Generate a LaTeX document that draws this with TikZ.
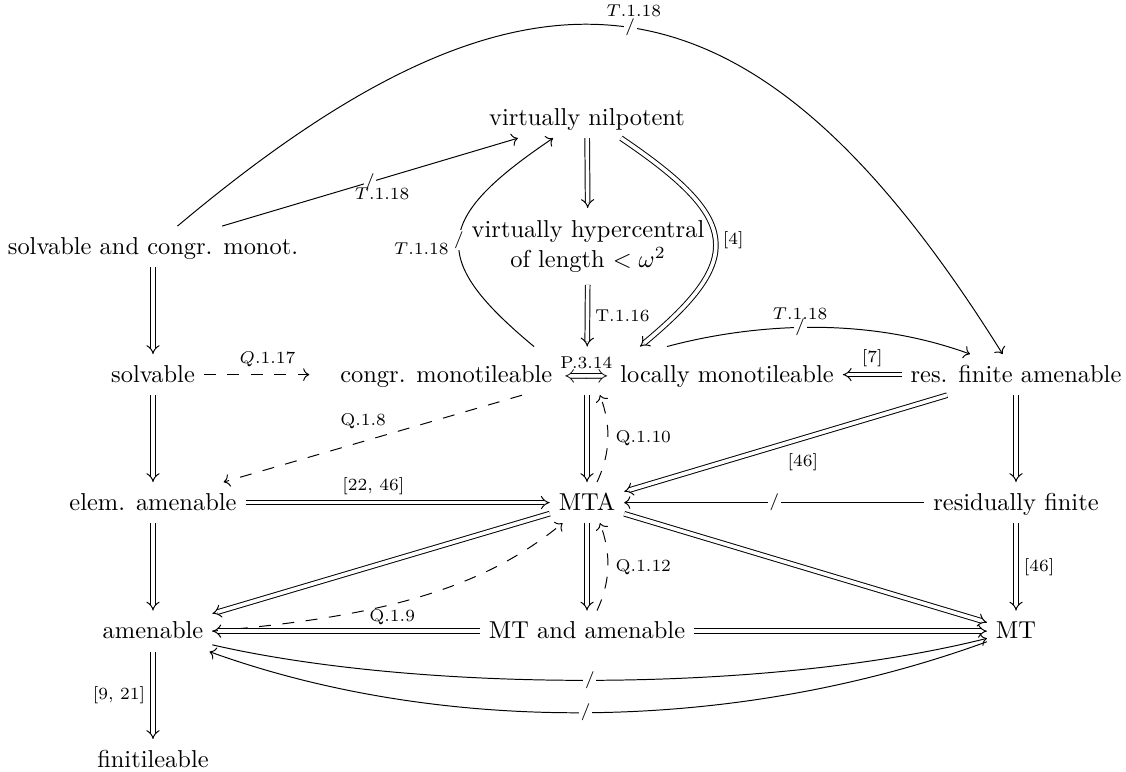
\documentclass[tikz,border=0pt]{standalone}
\usepackage{amsmath}
\usetikzlibrary{arrows.meta,calc}
\begin{document}
\begin{tikzpicture}[x=0.409pt,y=-0.409pt,
  obj/.style={inner xsep=3.5pt, inner ysep=3.9pt, text height=1.7ex, text depth=0.3ex, anchor=base},
  imp/.style={double, double distance=1.5pt, -{Implies}},
  sto/.style={-{Computer Modern Rightarrow}},
  dsh/.style={sto, dash pattern=on 4.9pt off 4.7pt},
  lab/.style={font=\scriptsize, inner sep=1pt},
  negmark/.style={fill=white, inner sep=0.6pt, font=\scriptsize},
]
\useasboundingbox (0,0) rectangle (1126,771);

% nodes
\node[obj] (vn) at (587,125) {virtually nilpotent};
\node[obj] (scm) at (153,254) {solvable and congr. monot.};
\node[align=center, inner xsep=3.5pt, inner ysep=5pt] (vh) at (588,246.4) {virtually hypercentral\\of length $<\omega^2$};
\node[obj] (sol) at (153,382) {solvable};
\node[obj, text height=10.4pt] (crow) at (587,382) {congr. monotileable $\overset{\text{P.3.14}}{\Longleftrightarrow}$ locally monotileable};
\node[obj] (rfa) at (1016,382) {res. finite amenable};
\node[obj] (ea) at (153,510) {elem. amenable};
\node[obj] (mta) at (587,510) {MTA};
\node[obj] (rf) at (1016,510) {residually finite};
\node[obj] (am) at (153,638.5) {amenable};
\node[obj] (mtam) at (587,638.5) {MT and amenable};
\node[obj] (mt) at (1016,638.5) {MT};
\node[obj] (fin) at (153,767) {finitileable};

% connectors
\draw[sto] (scm) -- node[midway, negmark]{$/$} node[midway, lab, below=1pt, xshift=5pt]{$T$.1.18} (vn);
\draw[sto] (scm.40) .. controls +(357,-300) and +(-250,-400) .. node[midway, negmark]{$/$} node[midway, lab, above=3pt, xshift=1.5pt]{$T$.1.18} (rfa.123);
\draw[imp] (vn) -- (vh);
\draw[imp] (vh) -- node[midway, lab, right=2pt]{T.1.16} (crow);
\draw[sto] ($(crow.north)+(-53,0)$) .. controls +(-105.5,-87.7) and +(-120,81) .. node[midway, negmark]{$/$} node[midway, lab, left=3pt, yshift=-3.5pt]{$T$.1.18} ($(vn.south)+(-34,0)$);
\draw[imp] ($(vn.south)+(34,0)$) .. controls +(120,81) and +(105.5,-87.7) .. node[midway, lab, right=2pt]{[4]} ($(crow.north)+(53,0)$);
\draw[sto] ($(crow.north)+(80,0)$) .. controls +(68,-18.3) and +(-117,-42.6) .. node[midway, negmark]{$/$} node[midway, lab, above=2pt]{$T$.1.18} ($(rfa.north)+(-46,0)$);
\draw[imp] (scm) -- (sol);
\draw[dsh, shorten >=9pt] (sol.east) -- node[midway, lab, above=2pt]{$Q$.1.17} (crow.west |- sol.east);
\draw[imp] (sol) -- (ea);
\draw[imp] (ea) -- (am);
\draw[imp] (am) -- node[midway, lab, left=2pt]{[9, 21]} (fin);
\draw[imp] (rfa.west) -- node[midway, lab, above=2pt]{[7]} (crow.east |- rfa.west);
\draw[imp] (rfa) -- node[midway, lab, below=3pt, xshift=7pt]{[46]} (mta);
\draw[imp] (rfa) -- (rf);
\draw[sto] (rf) -- node[midway, negmark]{$/$} (mta);
\draw[imp] (rf) -- node[midway, lab, right=2pt]{[46]} (mt);
\draw[imp] (crow) -- (mta);
\draw[dsh] ($(mta.north)+(10,0)$) .. controls +(14,-30) and +(11,30) .. node[midway, lab, right=2pt]{Q.1.10} ($(crow.south)+(13,0)$);
\draw[dsh] ($(crow.south)+(-65,0)$) -- node[midway, lab, above=3pt, xshift=-4pt]{Q.1.8} (ea);
\draw[imp] (ea) -- node[pos=0.42, lab, above=2pt]{[22, 46]} (mta);
\draw[imp] (mta) -- (am);
\draw[dsh] (am.east) .. controls +(147.6,-12.8) and +(-87.6,72.8) .. node[pos=0.45, lab, below=1pt]{Q.1.9} (mta.-140);
\draw[imp] (mta) -- (mtam);
\draw[dsh] ($(mtam.north)+(10,0)$) .. controls +(14,-30) and +(11,30) .. node[midway, lab, right=2pt]{Q.1.12} ($(mta.south)+(13,0)$);
\draw[imp] (mta) -- (mt);
\draw[imp] (mtam) -- (am);
\draw[imp] (mtam) -- (mt);
\draw[sto] (am.-13) .. controls +(201.5,46.5) and +(-227.4,56.7) .. node[midway, negmark]{$/$} (mt.-166);
\draw[sto] (mt.-160) .. controls +(-259.4,94.4) and +(225.6,81.6) .. node[midway, negmark]{$/$} (am.-20);
\end{tikzpicture}
\end{document}
